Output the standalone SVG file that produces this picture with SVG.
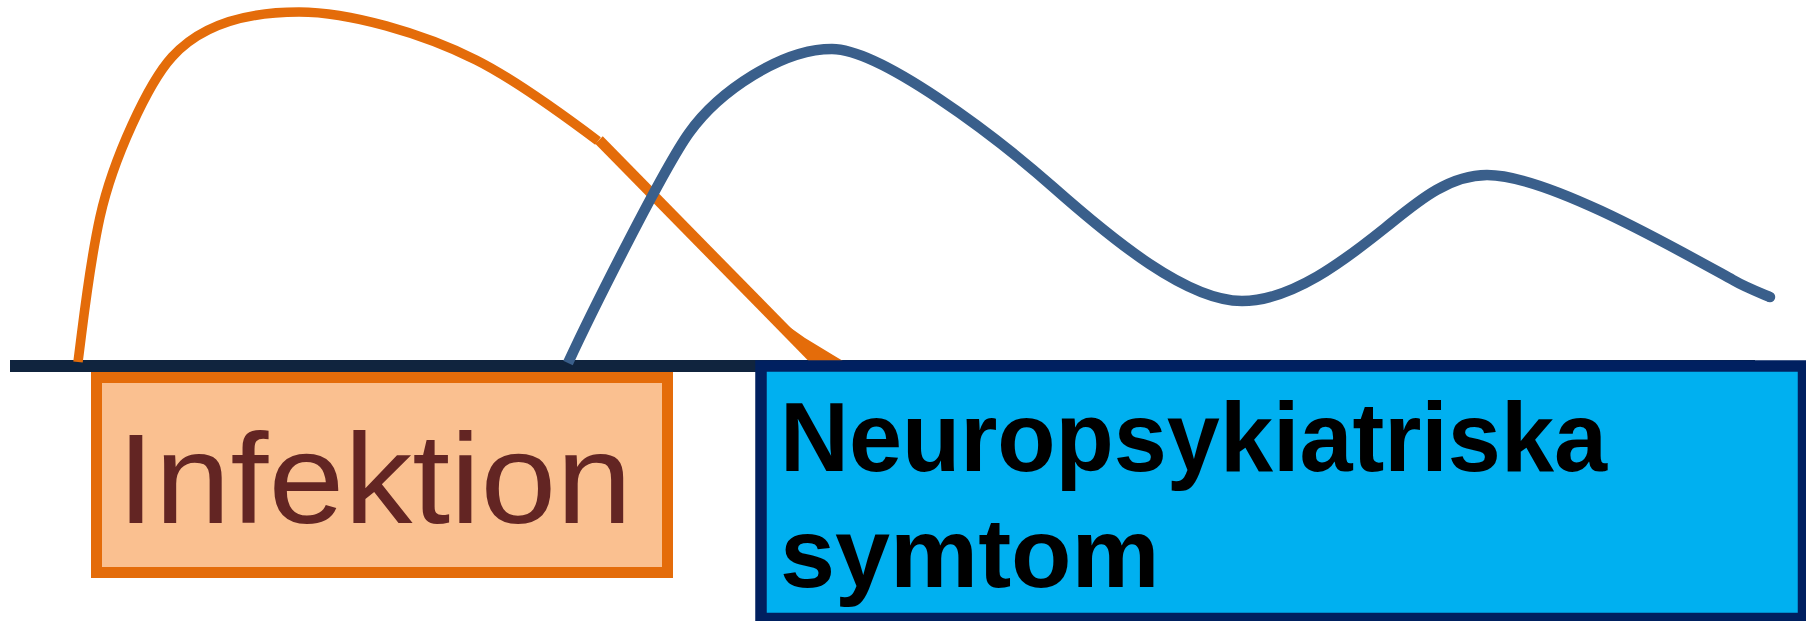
<svg xmlns="http://www.w3.org/2000/svg" width="1806" height="621" viewBox="0 0 1806 621">
<style>
.curve{fill:none;stroke-linejoin:round}
.orange{stroke:#E46C0A;stroke-width:9.5}
.blue{stroke:#3A5F8B;stroke-width:10.5}
.lbl1{font-family:"Liberation Sans",Arial,sans-serif;font-size:128px;fill:#632523}
.lbl2{font-family:"Liberation Sans",Arial,sans-serif;font-weight:bold;font-size:99px;fill:#000000}
</style>
<rect width="1806" height="621" fill="#ffffff"/>
<g id="axis">
<rect x="10" y="360" width="1745" height="12" fill="#10243E"/>
</g>
<g id="curves">
<path class="curve orange" d="M78,362 C84.4,312.5 89.2,265.8 100,217 C113,158.4 148.5,82.9 172,57 C202,23.7 249,12 299,12 C349,12 422.4,33.2 476,60 C516.2,80.1 566,117 598,141"/>
<path class="curve orange" style="stroke-width:10.5" d="M599,140 L813,358"/>
<polygon points="788,326 805,338 833,355 843,361 810,361" fill="#E46C0A"/>
<path class="curve blue" d="M568,363 C593,309 664,168 689,133 C719,91 782,49 832,49 C880,49 993,134 1053,187 C1113,240 1187,301 1242,301 C1292,301 1345,260 1385,228 C1415,204 1447,175 1487,175 C1547,175 1673,247 1733,280 C1745,287 1758,292 1770,297"/>
<circle cx="1770" cy="297" r="5.25" fill="#3A5F8B"/>
</g>
<g id="infektion">
<rect x="96.5" y="377.5" width="571" height="195" fill="#FAC090" stroke="#E46C0A" stroke-width="11"/>
<text class="lbl1" x="117" y="523" textLength="515" lengthAdjust="spacingAndGlyphs">Infektion</text>
</g>
<g id="neuropsykiatriska">
<rect x="761" y="366" width="1042.5" height="252.5" fill="#00B0F0" stroke="#002060" stroke-width="11.5"/>
<text class="lbl2" x="780" y="471" textLength="827" lengthAdjust="spacingAndGlyphs">Neuropsykiatriska</text>
<text class="lbl2" x="780" y="587">symtom</text>
</g>
</svg>
